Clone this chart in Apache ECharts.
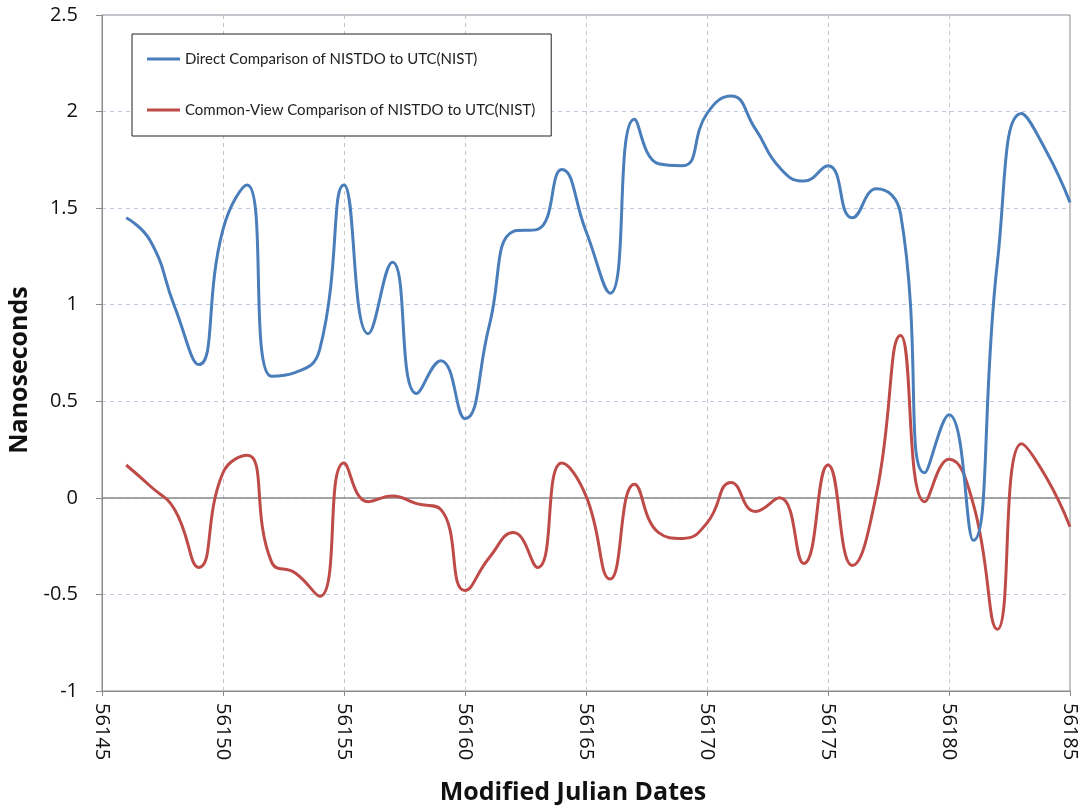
<!DOCTYPE html>
<html>
<head>
<meta charset="utf-8">
<script src="https://cdn.jsdelivr.net/npm/echarts@6/dist/echarts.min.js"></script>
<style>
  html, body { margin: 0; padding: 0; background: #fff; }
  #chart { width: 1080px; height: 807px; }
</style>
</head>
<body>
<div id="chart"></div>
<script>
// Daily MJD sample dates
const days = [
  56146, 56147, 56148, 56149, 56150, 56151, 56152, 56153, 56154, 56155,
  56156, 56157, 56158, 56159, 56160, 56161, 56162, 56163, 56164, 56165,
  56166, 56167, 56168, 56169, 56170, 56171, 56172, 56173, 56174, 56175,
  56176, 56177, 56178, 56179, 56180, 56181, 56182, 56183, 56184, 56185
];

// Direct comparison, ns
const directValues = [
  1.45, 1.33, 0.99, 0.69, 1.39, 1.62, 0.63, 0.65, 0.77, 1.62,
  0.85, 1.22, 0.54, 0.71, 0.41, 0.89, 1.38, 1.39, 1.70, 1.38,
  1.06, 1.96, 1.73, 1.72, 1.99, 2.08, 1.91, 1.71, 1.64, 1.72,
  1.45, 1.60, 1.47, 0.13, 0.43, -0.22, 1.22, 1.99, 1.80, 1.53
];

// Common-view comparison, ns
const commonViewValues = [
  0.17, 0.06, -0.06, -0.36, 0.13, 0.22, -0.33, -0.39, -0.51, 0.18,
  -0.02, 0.01, -0.03, -0.06, -0.48, -0.31, -0.18, -0.36, 0.18, 0.01,
  -0.42, 0.07, -0.18, -0.21, -0.13, 0.08, -0.07, 0.00, -0.34, 0.17,
  -0.35, 0.02, 0.84, -0.02, 0.20, -0.03, -0.68, 0.28, 0.11, -0.15
];

const seriesNames = [
  'Direct Comparison of NISTDO to UTC(NIST)',
  'Common-View Comparison of NISTDO to UTC(NIST)'
];

const xRange = { min: 56145, max: 56185, step: 5 };
const yRange = { min: -1, max: 2.5, step: 0.5 };

const pairs = vals => days.map((d, i) => [d, vals[i]]);

const chart = echarts.init(document.getElementById('chart'));
const font = '"Open Sans", "Liberation Sans", sans-serif';

chart.setOption({
  animation: false,
  backgroundColor: '#ffffff',
  grid: {
    left: 102, right: 10, top: 15, bottom: 116,
    outerBoundsMode: 'none',
    containLabel: false,
    show: true, borderColor: '#8a8a8a', borderWidth: 1
  },
  legend: {
    left: 132, top: 34, orient: 'vertical',
    padding: [15, 16, 16, 15],
    itemGap: 31,
    itemWidth: 33, itemHeight: 3,
    backgroundColor: '#ffffff',
    borderColor: '#222',
    borderWidth: 1,
    borderRadius: 0,
    icon: 'rect',
    textStyle: { fontFamily: 'Lato, "Open Sans", sans-serif', fontSize: 15, lineHeight: 20, color: '#222' },
    data: seriesNames
  },
  xAxis: {
    type: 'value',
    min: xRange.min, max: xRange.max, interval: xRange.step,
    name: 'Modified Julian Dates',
    nameLocation: 'middle',
    nameGap: 89,
    nameTextStyle: { fontFamily: font, fontSize: 25, fontWeight: 'bold', color: '#111', padding: [0, 26, 0, 0] },
    axisLine: { show: true, onZero: false, lineStyle: { color: '#8a8a8a', width: 1 } },
    axisTick: { show: true, length: 5, lineStyle: { color: '#8a8a8a' } },
    axisLabel: {
      rotate: -90, margin: 12, color: '#111', fontFamily: font, fontSize: 20,
      formatter: v => String(v)
    },
    splitLine: { show: true, lineStyle: { color: '#c6c6c6', type: [4, 4], width: 1 } }
  },
  yAxis: {
    type: 'value',
    min: yRange.min, max: yRange.max, interval: yRange.step,
    name: 'Nanoseconds',
    nameLocation: 'middle',
    nameGap: 66,
    nameTextStyle: { fontFamily: font, fontSize: 25, fontWeight: 'bold', color: '#111', padding: [0, 34, 0, 0] },
    axisLine: { show: true, lineStyle: { color: '#8a8a8a', width: 1 } },
    axisTick: { show: true, length: 6, lineStyle: { color: '#8a8a8a' } },
    axisLabel: { margin: 24, color: '#111', fontFamily: font, fontSize: 20 },
    splitLine: { show: true, lineStyle: { color: '#bccde3', type: [4, 4], width: 1 } }
  },
  series: [
    {
      name: seriesNames[0],
      type: 'line',
      data: pairs(directValues),
      smooth: 0.5,
      showSymbol: false,
      symbol: 'none',
      z: 3,
      lineStyle: { color: '#4a7ebb', width: 3 },
      itemStyle: { color: '#4a7ebb' },
      markLine: {
        silent: true,
        symbol: 'none',
        label: { show: false },
        lineStyle: { color: '#8a8a8a', type: 'solid', width: 1.5 },
        data: [{ yAxis: 0 }],
        z: 1
      }
    },
    {
      name: seriesNames[1],
      type: 'line',
      data: pairs(commonViewValues),
      smooth: 0.5,
      showSymbol: false,
      symbol: 'none',
      z: 2,
      lineStyle: { color: '#be4b48', width: 3 },
      itemStyle: { color: '#be4b48' }
    }
  ]
});
</script>
</body>
</html>
